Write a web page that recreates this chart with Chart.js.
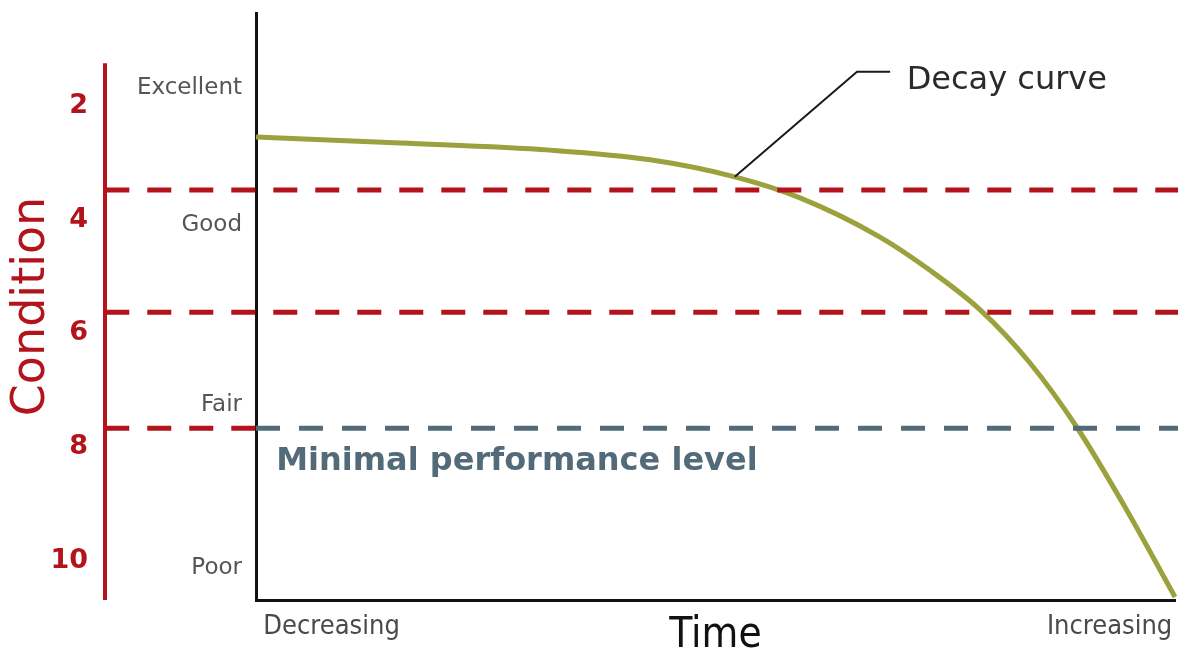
<!DOCTYPE html>
<html>
<head>
<meta charset="utf-8">
<script src="https://cdn.jsdelivr.net/npm/chart.js@4"></script>
<style>
  html, body { margin: 0; padding: 0; background: #fff; }
  #wrap { width: 1178px; height: 657px; position: relative; }
</style>
</head>
<body>
<div id="wrap"><canvas id="chart"></canvas></div>
<script>
// time runs 0 (decreasing) .. 100 (increasing), condition 2 (excellent) .. 10 (poor)
const curveX = [0, 15.7, 32.0, 42.9, 52.1, 59.2, 67.9, 73.3, 78.8, 84.2, 89.3, 94.6, 100];
const curveY = [2.55, 2.655, 2.78, 2.95, 3.25, 3.62, 4.31, 4.89, 5.59, 6.52, 7.65, 9.07, 10.64];

const conditionTicks = [2, 4, 6, 8, 10];
const ratingValues = [1.69, 4.10, 7.26, 10.13];
const ratingLabels = ['Excellent', 'Good', 'Fair', 'Poor'];
const timeTicks = [0.8, 99.7];
const timeLabels = ['Decreasing', 'Increasing'];

const redLevels = [3.48, 5.63, 7.67];
const redStartX = -16.4;
const redEndX = [100.4, 100.4, 0];
const minLevel = 7.67;
const minLevelX = [0, 100.4];

const leaderX = [52.1, 65.4, 69.0];
const leaderY = [3.25, 1.40, 1.40];

const yMin = 0.368, yMax = 10.693;

const RED = '#b3141c';
const SLATE = '#536b79';

Chart.defaults.font.family = '"DejaVu Sans", Verdana, sans-serif';

const pts = (xs, ys) => xs.map((x, i) => ({ x, y: ys[i] }));

const datasets = [];
datasets.push({
  data: pts(leaderX, leaderY),
  borderColor: '#1a1a1a', borderWidth: 2, pointRadius: 0, tension: 0
});
redLevels.forEach((lvl, i) => {
  datasets.push({
    data: [{ x: redStartX, y: lvl }, { x: redEndX[i], y: lvl }],
    borderColor: RED, borderWidth: 5, borderDash: [24, 18],
    pointRadius: 0, clip: false
  });
});
datasets.push({
  data: [{ x: minLevelX[0], y: minLevel }, { x: minLevelX[1], y: minLevel }],
  borderColor: SLATE, borderWidth: 5, borderDash: [24, 19],
  pointRadius: 0, clip: false
});
datasets.push({
  data: pts(curveX, curveY),
  borderColor: '#9ba13c', borderWidth: 5, pointRadius: 0,
  cubicInterpolationMode: 'monotone', clip: false
});

// red condition bar plus the two free text labels
const extras = {
  id: 'extras',
  afterDatasetsDraw(chart) {
    const { ctx, scales } = chart;
    const x = scales.x, y = scales.y;
    ctx.save();
    ctx.strokeStyle = RED;
    ctx.lineWidth = 4;
    ctx.beginPath();
    ctx.moveTo(y.right, y.getPixelForValue(1.25));
    ctx.lineTo(y.right, y.getPixelForValue(yMax));
    ctx.stroke();

    ctx.fillStyle = SLATE;
    ctx.font = 'bold 32px "DejaVu Sans"';
    ctx.textBaseline = 'middle';
    ctx.textAlign = 'left';
    ctx.fillText('Minimal performance level', x.getPixelForValue(2.2), y.getPixelForValue(8.26));

    ctx.fillStyle = '#2b2b2b';
    ctx.font = '32px "DejaVu Sans"';
    ctx.fillText('Decay curve', x.getPixelForValue(70.8), y.getPixelForValue(1.55));
    ctx.restore();
  }
};

const noPad = s => { s.paddingTop = 0; s.paddingBottom = 0; s.paddingLeft = 0; s.paddingRight = 0; };

new Chart(document.getElementById('chart'), {
  type: 'line',
  data: { datasets },
  options: {
    responsive: true,
    maintainAspectRatio: false,
    animation: false,
    layout: { padding: { top: 13, right: 3, left: 0, bottom: 0 } },
    plugins: { legend: { display: false }, tooltip: { enabled: false } },
    scales: {
      x: {
        type: 'linear', min: 0, max: 100, position: 'bottom',
        grid: { display: false, drawTicks: false },
        border: { color: '#111', width: 3 },
        afterBuildTicks: s => { s.ticks = timeTicks.map(v => ({ value: v })); },
        afterFit: s => { s.height = 57; noPad(s); },
        ticks: {
          align: 'inner', padding: 11, color: '#4a4a4a',
          font: { family: '"DejaVu Sans Condensed"', size: 27 },
          callback: v => timeLabels[timeTicks.indexOf(v)]
        },
        title: {
          display: true, text: 'Time', color: '#111', padding: 0,
          font: { family: '"DejaVu Sans Condensed"', size: 42, lineHeight: 1 }
        }
      },
      y: {
        type: 'linear', min: yMin, max: yMax, reverse: true, position: 'left', weight: 1,
        grid: { display: false, drawTicks: false },
        border: { display: false },
        afterBuildTicks: s => { s.ticks = conditionTicks.map(v => ({ value: v })); },
        afterFit: s => { s.width = 105; noPad(s); },
        ticks: { color: RED, padding: 17, font: { size: 27, weight: 'bold' } },
        title: {
          display: true, text: 'Condition', color: RED, padding: { top: 4, bottom: 0 },
          font: { size: 46, lineHeight: 1.2 }
        }
      },
      y2: {
        type: 'linear', min: yMin, max: yMax, reverse: true, position: 'left', weight: 0,
        grid: { display: false, drawTicks: false },
        border: { color: '#111', width: 3 },
        afterBuildTicks: s => { s.ticks = ratingValues.map(v => ({ value: v })); },
        afterFit: s => { s.width = 151; noPad(s); },
        ticks: {
          color: '#555', padding: 14, font: { size: 23 },
          callback: v => ratingLabels[ratingValues.indexOf(v)]
        }
      }
    }
  },
  plugins: [extras]
});
</script>
</body>
</html>
